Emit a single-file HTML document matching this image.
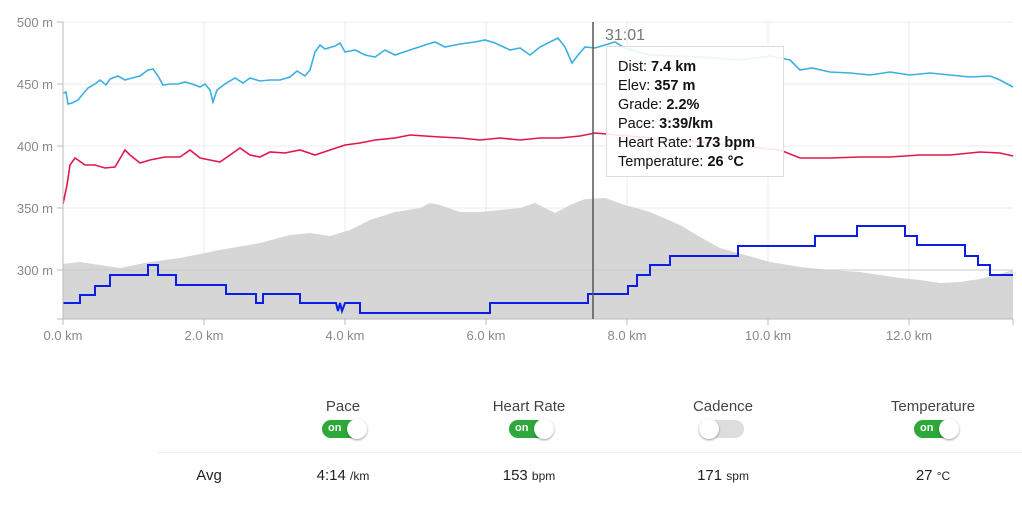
<!DOCTYPE html>
<html><head><meta charset="utf-8"><style>
body{margin:0;width:1022px;height:514px;background:#fff;font-family:"Liberation Sans",sans-serif;overflow:hidden;position:relative}
.lbl{position:absolute;font-size:15px;color:#444;transform:translateX(-50%);white-space:nowrap}
.tg{position:absolute;width:44px;height:18px;border-radius:9px;transform:translateX(-50%)}
.tg.on{background:#2ea83a}.tg.off{background:#ddd}
.tg .k{position:absolute;top:-1px;width:20px;height:20px;border-radius:50%;background:#fff;box-shadow:0 1px 2px rgba(0,0,0,.4)}
.tg.on .k{right:-1px}.tg.off .k{left:-1px}
.tg span{position:absolute;left:6px;top:2px;color:#fff;font-size:11px;font-weight:bold}
.v{position:absolute;font-size:15px;color:#222;transform:translateX(-50%);white-space:nowrap;top:467px}
.v small{font-size:12px}
</style></head><body>
<svg width="1022" height="340" style="position:absolute;left:0;top:0" font-family="Liberation Sans, sans-serif">
<g stroke="#ebebeb" stroke-width="1">
<line x1="63" y1="22" x2="1013" y2="22"/><line x1="63" y1="84" x2="1013" y2="84"/><line x1="63" y1="146" x2="1013" y2="146"/><line x1="63" y1="208" x2="1013" y2="208"/><line x1="63" y1="270" x2="1013" y2="270"/>
<line x1="204" y1="22" x2="204" y2="319"/><line x1="345" y1="22" x2="345" y2="319"/><line x1="486" y1="22" x2="486" y2="319"/><line x1="627" y1="22" x2="627" y2="319"/><line x1="768" y1="22" x2="768" y2="319"/><line x1="909" y1="22" x2="909" y2="319"/>
</g>
<polygon fill="#d6d6d6" points="63,319 63,264 80,262 100,265 120,268 150,262 180,258 220,250 260,243 290,235 310,233 330,236 350,230 370,220 395,212 420,208 430,203 440,205 460,212 480,212 500,210 520,208 535,203 545,208 555,213 570,205 585,199 605,198 625,205 650,212 680,225 700,237 720,248 745,255 770,262 800,267 830,270 860,272 880,275 900,278 920,280 940,283 960,282 980,279 1000,274 1013,270 1013,319"/>
<line x1="63" y1="270" x2="1013" y2="270" stroke="#cacaca"/>
<polyline fill="none" stroke="#3ab0e2" stroke-width="1.6" points="63,93 66,92 68,104 72,103 78,100 82,95 88,88 95,84 100,80 106,85 110,79 118,76 125,80 132,78 140,76 148,70 153,69 158,76 163,85 170,84 178,84 185,82 192,84 200,87 205,84 210,90 213,102 217,90 225,84 235,78 243,83 250,78 260,81 270,80 280,80 290,77 297,71 305,76 310,70 315,52 320,45 325,49 335,46 340,43 345,52 355,50 365,55 375,57 385,50 395,55 410,50 425,45 435,42 445,47 460,44 475,42 485,40 495,43 510,50 520,48 530,55 540,47 550,42 558,38 565,47 572,63 578,55 585,47 595,48 605,45 615,42 625,48 650,55 700,57 740,60 770,56 790,60 800,70 812,68 830,72 850,73 870,75 890,72 910,75 930,73 950,75 970,77 990,76 1000,80 1013,87"/>
<polyline fill="none" stroke="#e0174a" stroke-width="1.6" points="63,204 67,185 70,165 75,158 78,160 85,165 95,165 105,168 115,167 125,150 130,155 140,163 150,160 165,157 180,157 190,150 200,158 210,160 220,162 230,155 240,148 250,155 260,157 270,152 285,153 300,150 315,155 330,150 345,145 360,143 375,140 395,138 410,135 425,136 440,137 460,138 480,140 500,138 520,140 540,138 560,138 580,136 595,133 650,138 700,142 760,148 780,150 800,158 830,158 860,157 890,157 920,155 950,155 980,152 1000,153 1013,156"/>
<polyline fill="none" stroke="#0a1ee8" stroke-width="2" points="63,303 80,303 80,295 95,295 95,286 110,286 110,275 148,275 148,265 158,265 158,275 176,275 176,285 226,285 226,294 256,294 256,303 263,303 263,294 300,294 300,303 336,303 338,311 340,303 342,311 345,303 360,303 360,313 490,313 490,303 588,303 588,294 628,294 628,286 637,286 637,275 650,275 650,265 670,265 670,256 738,256 738,246 815,246 815,236 857,236 857,226 905,226 905,236 917,236 917,245 965,245 965,256 978,256 978,265 990,265 990,275 1013,275"/>
<line x1="63" y1="22" x2="63" y2="319" stroke="#bbb"/>
<line x1="57" y1="319" x2="1013" y2="319" stroke="#bbb"/>
<g stroke="#bbb"><line x1="57" y1="22" x2="63" y2="22"/><line x1="57" y1="84" x2="63" y2="84"/><line x1="57" y1="146" x2="63" y2="146"/><line x1="57" y1="208" x2="63" y2="208"/><line x1="57" y1="270" x2="63" y2="270"/>
<line x1="63" y1="319" x2="63" y2="325"/><line x1="204" y1="319" x2="204" y2="325"/><line x1="345" y1="319" x2="345" y2="325"/><line x1="486" y1="319" x2="486" y2="325"/><line x1="627" y1="319" x2="627" y2="325"/><line x1="768" y1="319" x2="768" y2="325"/><line x1="909" y1="319" x2="909" y2="325"/><line x1="1013" y1="319" x2="1013" y2="325"/></g>
<g fill="#888" font-size="13" text-anchor="end"><text x="53" y="27">500 m</text><text x="53" y="89">450 m</text><text x="53" y="151">400 m</text><text x="53" y="213">350 m</text><text x="53" y="275">300 m</text></g>
<g fill="#888" font-size="13" text-anchor="middle"><text x="63" y="340">0.0 km</text><text x="204" y="340">2.0 km</text><text x="345" y="340">4.0 km</text><text x="486" y="340">6.0 km</text><text x="627" y="340">8.0 km</text><text x="768" y="340">10.0 km</text><text x="909" y="340">12.0 km</text></g>
<line x1="593" y1="22" x2="593" y2="319" stroke="#555" stroke-width="1.5"/>
<text x="605" y="40" font-size="16" fill="#777">31:01</text>
<rect x="606.5" y="46.5" width="177" height="130" fill="#fff" fill-opacity="0.88" stroke="#ddd"/>
<g font-size="14.5" fill="#111"><text x="618" y="71">Dist: <tspan font-weight="bold">7.4 km</tspan></text><text x="618" y="90">Elev: <tspan font-weight="bold">357 m</tspan></text><text x="618" y="109">Grade: <tspan font-weight="bold">2.2%</tspan></text><text x="618" y="128">Pace: <tspan font-weight="bold">3:39/km</tspan></text><text x="618" y="147">Heart Rate: <tspan font-weight="bold">173 bpm</tspan></text><text x="618" y="166">Temperature: <tspan font-weight="bold">26 °C</tspan></text></g>
</svg>
<div class="lbl" style="left:343px;top:398px">Pace</div>
<div class="lbl" style="left:529px;top:398px">Heart Rate</div>
<div class="lbl" style="left:723px;top:398px">Cadence</div>
<div class="lbl" style="left:933px;top:398px">Temperature</div>
<div class="tg on" style="left:344px;top:420px"><span>on</span><div class="k"></div></div>
<div class="tg on" style="left:531px;top:420px"><span>on</span><div class="k"></div></div>
<div class="tg off" style="left:722px;top:420px"><div class="k"></div></div>
<div class="tg on" style="left:936px;top:420px"><span>on</span><div class="k"></div></div>
<div style="position:absolute;left:157px;top:452px;width:865px;height:1px;background:#eee"></div>
<div class="v" style="left:209px">Avg</div>
<div class="v" style="left:343px">4:14 <small>/km</small></div>
<div class="v" style="left:529px">153 <small>bpm</small></div>
<div class="v" style="left:723px">171 <small>spm</small></div>
<div class="v" style="left:933px">27 <small>°C</small></div>
</body></html>
